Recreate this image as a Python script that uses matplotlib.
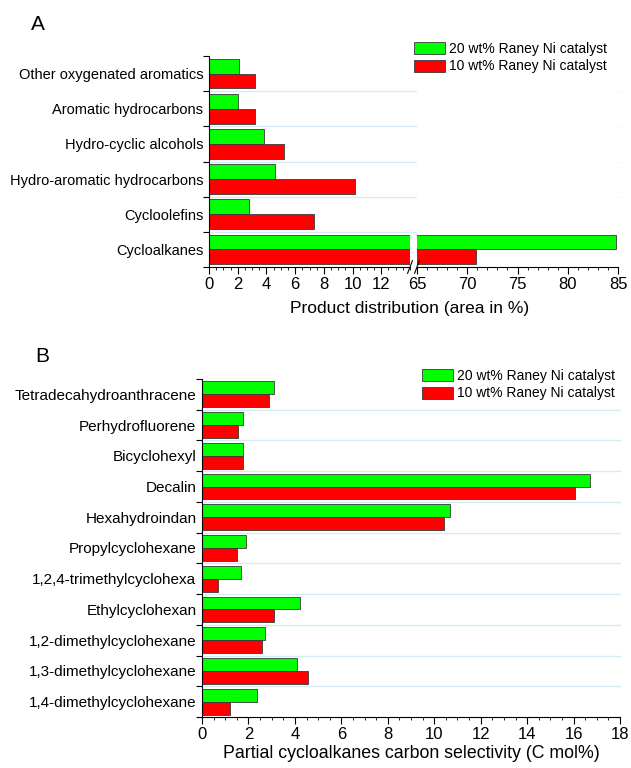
import numpy as np
import matplotlib
matplotlib.use('Agg')
import matplotlib.pyplot as plt
from matplotlib.patches import Patch
from matplotlib.ticker import MultipleLocator
from matplotlib.transforms import blended_transform_factory

plt.rcParams['font.family'] = ['Liberation Sans', 'DejaVu Sans']

# ---- data panel A ----
cats_a = ['Other oxygenated aromatics', 'Aromatic hydrocarbons', 'Hydro-cyclic alcohols',
          'Hydro-aromatic hydrocarbons', 'Cycloolefins', 'Cycloalkanes']
a_20 = [2.1, 2.0, 3.8, 4.6, 2.8, 84.8]
a_10 = [3.2, 3.2, 5.2, 10.2, 7.3, 70.9]

# ---- data panel B ----
cats_b = ['Tetradecahydroanthracene', 'Perhydrofluorene', 'Bicyclohexyl', 'Decalin',
          'Hexahydroindan', 'Propylcyclohexane', '1,2,4-trimethylcyclohexa',
          'Ethylcyclohexan', '1,2-dimethylcyclohexane', '1,3-dimethylcyclohexane',
          '1,4-dimethylcyclohexane']
b_20 = [3.1, 1.75, 1.75, 16.7, 10.7, 1.9, 1.7, 4.2, 2.7, 4.1, 2.35]
b_10 = [2.9, 1.55, 1.75, 16.05, 10.4, 1.5, 0.7, 3.1, 2.6, 4.55, 1.2]

GREEN = '#00ff00'
RED = '#ff0000'
EDGE = '#3a3a3a'
GRID = '#d6ecf5'
H = 0.42

W, Hh = 631, 768
fig = plt.figure(figsize=(W / 100, Hh / 100), dpi=100)


def frac(x0, y0, x1, y1):
    return [x0 / W, 1 - y1 / Hh, (x1 - x0) / W, (y1 - y0) / Hh]


def style_axis(ax, n, show_y=True, grid_to=1.0, lab_size=11):
    ax.set_ylim(n, 0)
    for s in ['top', 'right']:
        ax.spines[s].set_visible(False)
    ax.set_yticks(np.arange(n) + 0.5)
    ax.set_yticks(np.arange(n + 1), minor=True)
    ax.tick_params(axis='y', which='major', length=0, labelsize=lab_size, pad=4)
    ax.tick_params(axis='y', which='minor', length=4, width=0.8, direction='out')
    ax.tick_params(axis='x', which='major', length=5, width=0.8, labelsize=12, direction='out', pad=2)
    ax.tick_params(axis='x', which='minor', length=2.5, width=0.6, direction='out')
    if not show_y:
        ax.spines['left'].set_visible(False)
        ax.set_yticks([])
        ax.set_yticks([], minor=True)
        return
    tr = blended_transform_factory(ax.transAxes, ax.transData)
    for k in range(1, n):
        ax.plot([0, grid_to], [k, k], color=GRID, lw=1.0, zorder=0, transform=tr, clip_on=False)


def bars(ax, v20, v10):
    y = np.arange(len(v20))
    ax.barh(y + 0.5 - H / 2, v20, height=H, color=GREEN, edgecolor=EDGE, lw=0.6, zorder=2)
    ax.barh(y + 0.5 + H / 2, v10, height=H, color=RED, edgecolor=EDGE, lw=0.6, zorder=2)


handles = [Patch(facecolor=GREEN, edgecolor=EDGE, lw=0.6, label='20 wt% Raney Ni catalyst'),
           Patch(facecolor=RED, edgecolor=EDGE, lw=0.6, label='10 wt% Raney Ni catalyst')]
leg_kw = dict(frameon=False, fontsize=10, handlelength=2.2, handleheight=0.95, handletextpad=0.3,
              labelspacing=0.25, borderpad=0.0, borderaxespad=0.0)

# ===== panel A (broken axis) =====
axA1 = fig.add_axes(frac(209, 56, 410, 267))
axA2 = fig.add_axes(frac(417, 56, 618, 267))
n = len(cats_a)
bars(axA1, a_20, a_10)
bars(axA2, a_20, a_10)
style_axis(axA1, n, grid_to=(618 - 209) / (410 - 209), lab_size=10.5)
axA1.set_yticklabels(cats_a)
style_axis(axA2, n, show_y=False)
axA1.set_xlim(0, 14)
axA1.xaxis.set_minor_locator(MultipleLocator(0.5))
axA1.set_xticks([0, 2, 4, 6, 8, 10, 12])
axA2.set_xlim(65, 85)
axA2.xaxis.set_major_locator(MultipleLocator(5))
axA2.xaxis.set_minor_locator(MultipleLocator(1))

# break marks
d = 0.012
kw = dict(color='k', lw=0.8, clip_on=False)
axA1.plot([1 - d, 1 + d], [-0.03, 0.03], transform=axA1.transAxes, **kw)
axA2.plot([-d, d], [-0.03, 0.03], transform=axA2.transAxes, **kw)

fig.text(410 / W, 1 - 309 / Hh, 'Product distribution (area in %)', ha='center', va='center', fontsize=12.5)
fig.text(38 / W, 1 - 25 / Hh, 'A', ha='center', va='center', fontsize=15)
fig.legend(handles=handles, loc='upper left', bbox_to_anchor=(414 / W, 1 - 42 / Hh), **leg_kw)

# ===== panel B =====
axB = fig.add_axes(frac(202, 379, 620, 717))
n = len(cats_b)
bars(axB, b_20, b_10)
style_axis(axB, n, lab_size=11)
axB.set_yticklabels(cats_b)
axB.set_xlim(0, 18)
axB.xaxis.set_major_locator(MultipleLocator(2))
axB.xaxis.set_minor_locator(MultipleLocator(0.5))
axB.set_xlabel('Partial cycloalkanes carbon selectivity (C mol%)', fontsize=12.8, labelpad=2)
fig.text(42 / W, 1 - 357 / Hh, 'B', ha='center', va='center', fontsize=15)
fig.legend(handles=handles, loc='upper left', bbox_to_anchor=(422 / W, 1 - 369 / Hh), **leg_kw)

fig.savefig('out.png', dpi=100)
